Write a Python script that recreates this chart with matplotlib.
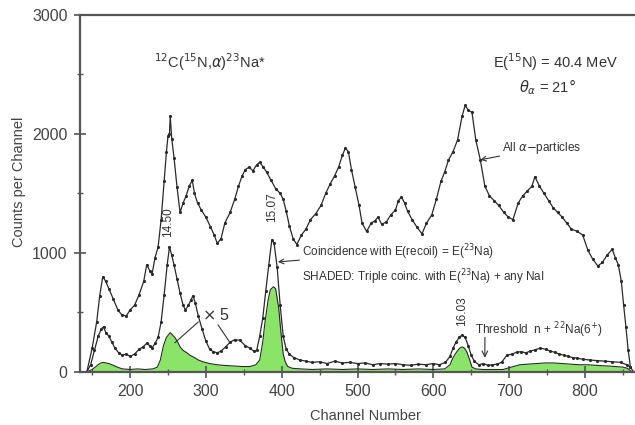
import matplotlib.pyplot as plt
from matplotlib.ticker import MultipleLocator

plt.rcParams['font.family'] = ['Liberation Sans', 'DejaVu Sans']

# All alpha-particles spectrum (channel, counts)
all_ch = [143, 150, 156, 160, 164, 168, 172, 178, 184, 189, 195, 200, 206, 212, 218, 222,
          226, 229, 233, 237, 241, 245, 248, 250, 252, 253, 255, 258, 262, 266, 270, 274,
          278, 282, 285, 289, 294, 300, 306, 311, 315, 320, 325, 332, 338, 343, 348, 352,
          357, 362, 367, 371, 376, 380, 386, 392, 398, 402, 406, 410, 415, 420, 426, 432,
          438, 445, 452, 458, 464, 470, 475, 480, 484, 488, 492, 497, 502, 506, 512, 518,
          523, 527, 532, 538, 544, 550, 554, 558, 562, 566, 572, 578, 585, 591, 598, 604,
          610, 615, 620, 626, 632, 638, 642, 646, 651, 656, 662, 668, 674, 680, 686, 693,
          699, 705, 712, 718, 724, 730, 734, 740, 746, 752, 758, 764, 770, 776, 782, 790,
          797, 804, 810, 817, 823, 829, 836, 840, 844, 848, 851, 854, 857, 860]
all_counts = [0, 200, 420, 640, 800, 760, 700, 610, 520, 480, 470, 520, 560, 650, 760, 900,
              850, 820, 960, 1050, 1280, 1600, 1850, 1980, 2000, 2150, 1960, 1800, 1550, 1340, 1420, 1480,
              1560, 1610, 1500, 1420, 1360, 1300, 1220, 1150, 1080, 1120, 1250, 1340, 1450, 1560, 1650, 1700,
              1720, 1690, 1740, 1760, 1720, 1680, 1610, 1540, 1500, 1450, 1350, 1230, 1120, 1070, 1150, 1200,
              1280, 1330, 1400, 1500, 1580, 1650, 1720, 1820, 1880, 1850, 1700, 1550, 1400, 1250, 1180, 1250,
              1270, 1300, 1240, 1260, 1320, 1360, 1440, 1470, 1420, 1350, 1280, 1220, 1160, 1250, 1320, 1450,
              1600, 1680, 1780, 1850, 1950, 2150, 2240, 2200, 2180, 1950, 1780, 1560, 1480, 1440, 1400, 1340,
              1300, 1280, 1420, 1480, 1520, 1560, 1640, 1560, 1500, 1440, 1380, 1340, 1300, 1250, 1200, 1180,
              1150, 1020, 950, 890, 920, 980, 1030, 960, 900, 760, 560, 380, 180, 40]

# Coincidence with E(recoil) = E(23Na)
coinc_ch = [143, 148, 153, 158, 162, 165, 168, 172, 176, 180, 185, 190, 195, 200, 206, 212,
            217, 222, 226, 229, 233, 237, 241, 245, 249, 252, 255, 258, 262, 266, 270, 273,
            277, 280, 283, 286, 290, 295, 300, 305, 310, 315, 320, 326, 332, 338, 345, 352,
            358, 363, 367, 371, 375, 379, 383, 387, 390, 394, 398, 402, 406, 410, 416, 424,
            432, 440, 450, 460, 470, 480, 490, 500, 510, 520, 530, 540, 550, 560, 570, 580,
            590, 600, 608, 616, 622, 626, 630, 634, 638, 642, 646, 650, 654, 660, 666, 672,
            678, 684, 690, 697, 704, 710, 716, 722, 728, 734, 741, 748, 754, 760, 766, 772,
            778, 784, 790, 798, 806, 816, 826, 836, 847, 855, 860, 864]
coinc_counts = [0, 60, 180, 300, 360, 380, 330, 300, 250, 200, 160, 140, 150, 130, 150, 190,
                210, 240, 220, 200, 240, 290, 420, 650, 900, 1050, 980, 900, 780, 660, 560, 520,
                560, 600, 640, 580, 470, 360, 260, 190, 170, 160, 175, 210, 250, 270, 265, 220,
                200, 175, 180, 300, 450, 680, 900, 1110, 1080, 880, 560, 300, 190, 150, 120, 100,
                90, 80, 85, 70, 90, 75, 80, 70, 75, 60, 70, 65, 70, 60, 55, 65,
                60, 70, 60, 80, 130, 200, 250, 290, 310, 290, 220, 140, 90, 60, 70, 55,
                60, 65, 80, 140, 150, 165, 170, 160, 175, 185, 200, 190, 175, 165, 150, 140,
                130, 120, 115, 105, 100, 95, 90, 85, 80, 60, 40, 0]

# Triple coincidence (shaded)
tri_ch = [143, 150, 156, 160, 164, 168, 172, 178, 183, 190, 200, 210, 220, 230, 236, 240,
          244, 248, 253, 256, 259, 262, 266, 270, 275, 279, 285, 290, 296, 305, 315, 323,
          335, 348, 358, 366, 371, 375, 378, 382, 385, 389, 392, 394, 396, 398, 400, 402,
          405, 408, 414, 425, 440, 460, 480, 500, 520, 540, 560, 580, 600, 615, 622, 626,
          631, 635, 638, 641, 644, 648, 651, 656, 665, 680, 692, 703, 714, 725, 736, 747,
          758, 770, 781, 792, 803, 815, 828, 840, 850, 856, 862]
tri_counts = [0, 20, 50, 70, 80, 75, 70, 55, 40, 25, 20, 25, 20, 25, 40, 100,
              220, 290, 330, 310, 290, 260, 210, 180, 160, 140, 120, 100, 85, 70, 60, 55,
              50, 45, 45, 60, 100, 250, 420, 600, 690, 715, 700, 620, 540, 400, 270, 150,
              80, 45, 30, 25, 20, 25, 20, 25, 20, 25, 20, 25, 20, 25, 60, 120,
              170, 200, 210, 200, 170, 100, 40, 25, 20, 20, 20, 40, 60, 65, 70, 75,
              75, 70, 65, 60, 60, 55, 50, 45, 40, 30, 0]

fig = plt.figure(figsize=(6.35, 4.25), dpi=100)
ax = fig.add_axes([0.126, 0.125, 0.874, 0.84])

line_col = "#2a2a2a"
ax.fill_between(tri_ch, tri_counts, color="#8ae468", lw=0)
ax.plot(tri_ch, tri_counts, color=line_col, lw=0.8)
ax.plot(coinc_ch, coinc_counts, color=line_col, lw=0.9, marker=".", ms=2.5)
ax.plot(all_ch, all_counts, color=line_col, lw=0.9, marker=".", ms=2.5)

ax.set_xlim(134, 866)
ax.set_ylim(0, 3000)
ax.xaxis.set_minor_locator(MultipleLocator(50))
ax.yaxis.set_major_locator(MultipleLocator(1000))
ax.yaxis.set_minor_locator(MultipleLocator(500))
ax.set_xticks(range(200, 900, 100))
ax.tick_params(which="major", direction="inout", length=8, width=1.2, color="#555555",
               labelsize=11.5, labelcolor="#444444", pad=5)
ax.tick_params(which="minor", direction="inout", length=5, width=1, color="#555555")
for s in ["left", "bottom", "top"]:
    ax.spines[s].set_color("#555555")
    ax.spines[s].set_linewidth(1.6)
ax.spines["right"].set_visible(False)

fig.text(0.575, 0.022, "Channel Number", ha="center", va="center", fontsize=10.5, color="#444444")
fig.text(0.03, 0.572, "Counts per Channel", ha="center", va="center", rotation=90,
         fontsize=10.5, color="#444444")

tc = "#333333"
ax.text(305, 2605, r"$^{12}$C($^{15}$N,$\alpha$)$^{23}$Na*", ha="center", va="center",
        fontsize=10.5, color=tc)
ax.text(761, 2605, r"E($^{15}$N) = 40.4 MeV", ha="center", va="center", fontsize=10.5, color=tc)
ax.text(751, 2395, r"$\theta_{\alpha}$ = 21$\degree$", ha="center", va="center", fontsize=10.5, color=tc)

ax.annotate(r"All $\alpha$$-$particles", xy=(662, 1782), xytext=(691, 1882), ha="left",
            va="center", fontsize=8.5, color=tc,
            arrowprops=dict(arrowstyle="->", color=tc, lw=0.8, shrinkA=0, shrinkB=0))
ax.annotate(r"Coincidence with E(recoil) = E($^{23}$Na)", xy=(395, 924), xytext=(427, 1008),
            ha="left", va="center", fontsize=8.5, color=tc,
            arrowprops=dict(arrowstyle="->", color=tc, lw=0.8, shrinkA=0, shrinkB=0))
ax.text(427, 798, r"SHADED: Triple coinc. with E($^{23}$Na) + any NaI", ha="left",
        va="center", fontsize=8.5, color=tc)

ax.text(250, 1260, "14.50", rotation=90, ha="center", va="center", fontsize=8.5, color=tc)
ax.text(387, 1387, "15.07", rotation=90, ha="center", va="center", fontsize=8.5, color=tc)
ax.text(638, 513, "16.03", rotation=90, ha="center", va="center", fontsize=8.5, color=tc)

ax.text(295, 479, r"$\times$ 5", ha="left", va="center", fontsize=11.5, color=tc)
ax.annotate("", xy=(259, 244), xytext=(290, 420),
            arrowprops=dict(arrowstyle="-", color=tc, lw=0.8, shrinkA=0, shrinkB=0))
ax.annotate("", xy=(332, 244), xytext=(316, 395),
            arrowprops=dict(arrowstyle="-", color=tc, lw=0.8, shrinkA=0, shrinkB=0))

ax.text(655, 353, r"Threshold  n + $^{22}$Na(6$^{+}$)", ha="left", va="center",
        fontsize=8.5, color=tc)
ax.annotate("", xy=(668, 118), xytext=(668, 290),
            arrowprops=dict(arrowstyle="->", color=tc, lw=0.8, shrinkA=0, shrinkB=0))

fig.savefig("out.png", dpi=100)
